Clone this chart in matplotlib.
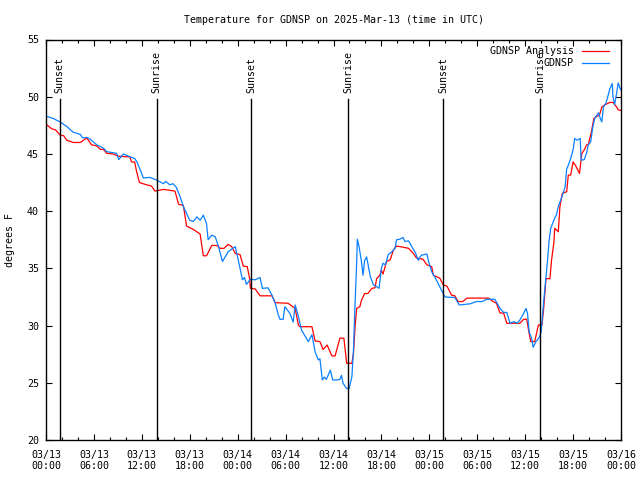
import datetime as dt
import matplotlib
matplotlib.use("Agg")
import matplotlib.pyplot as plt
import matplotlib.dates as mdates
import matplotlib.transforms as mtransforms

plt.rcParams['font.family'] = ['DejaVu Sans Mono']

start = dt.datetime(2025, 3, 13, 0, 0)

# GDNSP Analysis (red): hours since start, degrees F
analysis_hours = [0, 0.7, 1.2, 1.75, 2.2, 2.6, 3.4, 4.3, 5.1, 5.7, 6.35, 6.8, 7.2, 7.6, 8.4, 9.05,
                  10.1, 10.5, 10.7, 11.1, 11.35, 11.7, 12.6, 13.2, 13.65, 14.7, 16.15, 16.6, 17.2,
                  17.6, 18.45, 19.3, 19.7, 20.1, 20.75, 21.4, 21.8, 22.3, 22.8, 23.25, 23.7, 24.3,
                  24.7, 25.2, 25.5, 25.6, 26.2, 26.8, 28.3, 28.7, 30.3, 31.2, 31.6, 31.8, 33.3,
                  33.7, 34.3, 34.7, 35.2, 35.8, 36.2, 36.8, 37.3, 37.65, 38.3, 38.5, 38.7, 38.9,
                  39.3, 39.5, 39.9, 40.3, 40.8, 41.2, 41.4, 41.8, 42.0, 42.2, 42.65, 43.1, 43.5,
                  43.9, 44.7, 45.4, 46.0, 46.4, 47.2, 47.7, 48.3, 48.5, 49.3, 49.75, 50.2, 50.8,
                  51.2, 51.6, 52.2, 52.7, 55.4, 56.0, 56.4, 56.85, 57.3, 57.7, 59.35, 59.8, 60.2,
                  60.5, 60.7, 61.2, 61.65, 62.1, 62.3, 62.5, 62.6, 63.1, 63.3, 63.6, 63.7, 64.15,
                  64.35, 64.65, 65.2, 65.4, 65.7, 66.0, 66.3, 66.8, 67.1, 67.4, 67.7, 67.9, 68.3,
                  68.6, 68.9, 69.3, 69.6, 70.0, 70.6, 71.0, 71.45, 71.65, 72.0]
analysis_temp = [47.6, 47.2, 47.1, 46.65, 46.6, 46.2, 46.0, 46.0, 46.4, 45.8, 45.7, 45.4, 45.4,
                 45.05, 45.0, 44.8, 44.75, 44.75, 44.3, 44.3, 43.45, 42.5, 42.3, 42.2, 41.75,
                 41.9, 41.75, 40.6, 40.5, 38.7, 38.4, 38.0, 36.1, 36.1, 37.0, 37.0, 36.75, 36.75,
                 37.1, 36.9, 36.3, 36.2, 35.2, 35.15, 34.1, 33.25, 33.2, 32.6, 32.6, 32.0, 31.95,
                 31.5, 30.05, 29.9, 29.9, 28.65, 28.6, 27.9, 28.3, 27.35, 27.35, 28.9, 28.9, 26.7,
                 26.7, 27.55, 29.9, 31.5, 31.65, 32.2, 32.8, 32.8, 33.25, 33.3, 34.1, 34.4, 34.85,
                 34.5, 35.6, 35.75, 36.6, 36.95, 36.85, 36.75, 36.3, 35.9, 35.8, 35.3, 35.15, 34.4,
                 34.15, 33.55, 33.45, 32.65, 32.6, 32.1, 32.1, 32.4, 32.4, 32.1, 31.95, 31.1, 31.1,
                 30.2, 30.2, 30.55, 30.55, 29.3, 28.6, 28.6, 30.05, 30.05, 31.35, 33.1, 34.1, 34.1,
                 35.7, 37.3, 38.5, 38.2, 40.4, 41.55, 41.7, 43.15, 43.15, 44.3, 44.0, 43.3, 45.05,
                 45.35, 45.8, 45.8, 46.95, 48.1, 48.25, 48.4, 49.1, 49.3, 49.5, 49.5, 49.1, 48.85,
                 48.8]

# GDNSP observations (blue)
obs_hours = [0, 0.9, 1.75, 2.6, 3.4, 4.3, 4.6, 5.1, 5.5, 6.35, 7.2, 7.6, 8.85, 9.1, 9.7, 10.5,
             11.1, 11.4, 11.8, 12.2, 13.0, 13.9, 14.7, 15.0, 15.5, 15.9, 16.3, 16.8, 17.2, 17.6,
             18.0, 18.45, 18.9, 19.3, 19.7, 20.1, 20.3, 20.75, 21.2, 21.6, 22.1, 22.8, 23.7, 24.3,
             24.6, 24.85, 25.1, 25.6, 26.2, 26.8, 27.1, 27.8, 28.3, 28.7, 29.1, 29.3, 29.7, 29.9,
             30.3, 30.55, 30.95, 31.2, 31.6, 32.0, 32.6, 32.85, 33.3, 33.7, 34.1, 34.3, 34.6,
             34.85, 35.1, 35.6, 35.9, 36.4, 36.8, 37.0, 37.2, 37.65, 37.95, 38.3, 38.5, 38.7,
             38.9, 38.98, 39.2, 39.5, 39.7, 39.9, 40.15, 40.6, 41.0, 41.4, 41.7, 42.0, 42.2, 42.5,
             42.85, 43.3, 43.7, 43.9, 44.3, 44.7, 44.95, 45.4, 45.8, 46.3, 46.6, 46.8, 47.0, 47.7,
             47.9, 48.3, 48.8, 49.3, 49.95, 51.2, 51.75, 53.1, 53.9, 54.6, 55.2, 56.2, 56.85, 57.3,
             57.7, 58.1, 58.6, 59.0, 59.35, 59.8, 60.1, 60.3, 60.5, 60.8, 61.0, 61.35, 61.8, 62.0,
             62.3, 62.6, 62.8, 63.0, 63.2, 63.7, 63.9, 64.15, 64.6, 65.0, 65.2, 65.4, 65.7, 66.0,
             66.2, 66.5, 66.9, 67.0, 67.4, 67.7, 67.9, 68.2, 68.45, 68.7, 69.2, 69.4, 69.6, 69.8,
             70.1, 70.4, 70.6, 70.9, 71.0, 71.2, 71.45, 71.65, 71.9, 72.0]
obs_temp = [48.3, 48.1, 47.8, 47.4, 46.9, 46.7, 46.4, 46.45, 46.3, 45.8, 45.5, 45.2, 45.05, 44.5,
            45.0, 44.75, 44.6, 44.3, 43.6, 42.9, 42.95, 42.7, 42.4, 42.6, 42.3, 42.4, 42.1, 41.25,
            40.4, 39.8, 39.2, 39.1, 39.5, 39.2, 39.65, 38.9, 37.5, 37.9, 37.75, 36.9, 35.6, 36.45,
            36.9, 35.0, 34.0, 34.2, 33.6, 34.05, 34.0, 34.2, 33.25, 33.3, 32.65, 31.95, 30.9,
            30.55, 30.55, 31.65, 31.3, 31.05, 30.3, 31.8, 30.8, 29.6, 28.9, 28.6, 29.2, 27.7, 27.0,
            27.1, 25.25, 25.5, 25.3, 26.1, 25.25, 25.25, 25.3, 25.65, 24.95, 24.5, 24.5, 25.5,
            27.85, 31.95, 35.45, 37.55, 36.9, 35.6, 34.4, 35.7, 36.0, 34.3, 33.55, 33.4, 33.25,
            35.0, 35.45, 35.3, 36.2, 36.45, 36.75, 37.5, 37.55, 37.7, 37.35, 37.4, 36.9, 36.3,
            35.7, 35.95, 36.15, 36.25, 35.6, 34.7, 34.1, 33.4, 32.5, 32.45, 31.8, 31.9, 32.1,
            32.1, 32.3, 32.3, 31.5, 31.15, 31.15, 30.2, 30.35, 30.2, 30.5, 31.05, 31.5, 31.05,
            29.45, 28.9, 28.1, 28.6, 29.0, 29.45, 31.95, 34.25, 35.7, 37.45, 38.5, 39.4, 39.65,
            40.4, 41.25, 42.1, 43.7, 44.0, 44.6, 45.35, 46.35, 46.2, 46.35, 44.45, 44.5, 45.1,
            45.8, 46.05, 47.25, 48.1, 48.6, 48.1, 47.8, 49.1, 49.4, 50.15, 50.7, 51.15, 50.0,
            49.3, 50.3, 51.2, 50.7, 50.6]

# Sun events (hours since start)
sun_hours = [1.72, 13.88, 25.72, 37.85, 49.75, 61.88]
sun_labels = ["Sunset", "Sunrise", "Sunset", "Sunrise", "Sunset", "Sunrise"]

series_labels = ["GDNSP Analysis", "GDNSP"]
title_text = "Temperature for GDNSP on 2025-Mar-13 (time in UTC)"
ylabel_text = "degrees F"

FS = 7.2

def to_dt(hours):
    return [start + dt.timedelta(hours=h) for h in hours]

fig = plt.figure(figsize=(6.4, 4.8), dpi=100)
ax = fig.add_axes([46 / 640, 40 / 480, 575 / 640, 400.5 / 480])

ax.plot(to_dt(analysis_hours), analysis_temp, color='#ff0000', lw=0.9, label=series_labels[0])
ax.plot(to_dt(obs_hours), obs_temp, color='#0a80ff', lw=0.9, label=series_labels[1])

trans = mtransforms.blended_transform_factory(ax.transData, ax.transAxes)
for h, lab in zip(sun_hours, sun_labels):
    x = mdates.date2num(start + dt.timedelta(hours=h))
    ax.plot([x, x], [0, 0.851], color='black', lw=1.0, transform=trans)
    ax.text(x, 0.866, lab, rotation=90, ha='center', va='bottom', transform=trans,
            fontsize=FS)

ax.set_xlim(start, start + dt.timedelta(hours=72))
ax.set_ylim(20, 55)
ax.xaxis.set_major_locator(mdates.HourLocator(byhour=range(0, 24, 6)))
ax.xaxis.set_minor_locator(mdates.HourLocator(byhour=range(0, 24, 2)))
ax.xaxis.set_major_formatter(mdates.DateFormatter('%m/%d\n%H:%M'))
ax.set_yticks(range(20, 56, 5))

ax.tick_params(which='both', direction='in', top=True, right=True, labelsize=FS)
ax.tick_params(axis='x', which='major', pad=7)
ax.tick_params(axis='y', which='major', pad=5)
ax.tick_params(which='major', length=4, width=0.8)
ax.tick_params(which='minor', length=2, width=0.8)
for s in ax.spines.values():
    s.set_linewidth(1.0)

ax.set_title(title_text, fontsize=FS, pad=12)
fig.text(10 / 640, 0.5, ylabel_text, rotation=90, ha='center', va='center', fontsize=FS)

leg = ax.legend(loc='upper right', bbox_to_anchor=(0.979, 0.983), frameon=False,
                markerfirst=False, fontsize=FS, handlelength=2.7, handletextpad=0.8,
                labelspacing=0.2, borderaxespad=0.0, borderpad=0.0)

fig.savefig('out.png', dpi=100)
